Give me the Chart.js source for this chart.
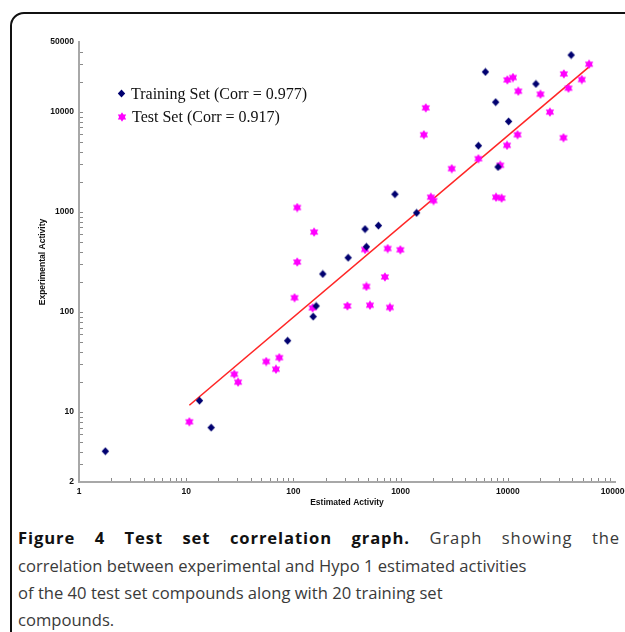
<!DOCTYPE html>
<html><head><meta charset="utf-8">
<script src="https://cdn.jsdelivr.net/npm/chart.js@4.4.0/dist/chart.umd.min.js"></script>
<style>
html,body{margin:0;padding:0;background:#fff;overflow:hidden;width:625px;height:632px;}
#frame{position:absolute;left:10px;top:12px;width:700px;height:700px;border:2px solid #111;border-radius:14px;box-sizing:border-box;}
#wrap{position:absolute;left:0;top:0;width:660px;height:512px;}
#legend{position:absolute;left:117px;top:82px;font-family:"Liberation Serif";font-size:16px;color:#111;}
.row{height:23px;display:flex;align-items:center;white-space:nowrap;}
.row canvas{margin-right:5px;}
.cap{position:absolute;left:18px;font-family:"Open Sans";font-size:16.6px;line-height:27px;color:#3a3a3a;white-space:nowrap;}
.cap b{color:#111;}
#l1{width:602px;white-space:normal;text-align:justify;text-align-last:justify;letter-spacing:0.9px;}
</style></head>
<body>
<div id="frame"></div>
<div id="wrap"><canvas id="c" width="660" height="512"></canvas></div>
<div id="legend"></div>
<div class="cap" id="l1" style="top:524px"><b>Figure 4 Test set correlation graph.</b> Graph showing the</div>
<div class="cap" style="top:552px">correlation between experimental and Hypo 1 estimated activities</div>
<div class="cap" style="top:579px">of the 40 test set compounds along with 20 training set</div>
<div class="cap" style="top:606px">compounds.</div>
<script>
const seriesNames = ['Training Set (Corr = 0.977)', 'Test Set (Corr = 0.917)'];
const xTickValues = [1, 10, 100, 1000, 10000, 100000];
const yTickValues = [2, 10, 100, 1000, 10000, 50000];

const trainX = [1.76, 13.3, 17.1, 88.3, 152.8, 163, 188, 324, 466, 480, 621, 885, 1409, 5317, 8110, 10170, 7705, 6180, 18290, 38990];
const trainY = [4.06, 13, 7.0, 51.7, 90, 115, 240, 349, 674, 449, 731, 1504, 980, 4592, 2818, 8040, 12530, 25120, 19050, 37070];

const testX = [10.7, 28.1, 30.5, 55.8, 68.8, 73.8, 108.5, 156, 108.5, 102.5, 151, 1914, 2029, 7765, 8750, 466, 757, 994, 714, 480, 319, 518, 795, 1718, 1648, 3000, 5317, 8511, 9840, 12330, 9900, 11170, 12530, 20180, 24700, 33050, 33340, 36810, 48980, 57300];
const testY = [8.0, 23.9, 19.9, 32, 26.8, 35, 1107, 629, 316, 139, 110, 1405, 1300, 1405, 1374, 422, 431, 419, 224, 180, 115, 117, 111, 10990, 5915, 2710, 3406, 2931, 4634, 5915, 20890, 22080, 16110, 15040, 9960, 5521, 23990, 17260, 21090, 29990];

const fitX = [10.7, 57300];
const fitY = [11.7, 28180];

function makeStar(){
  const c = document.createElement('canvas'); c.width = 10; c.height = 10;
  const g = c.getContext('2d'); g.fillStyle = '#ff00ff';
  const cx = 5, cy = 5, R = 4.8, r = 2.9;
  g.beginPath();
  for (let i = 0; i < 12; i++) {
    const a = -Math.PI/2 + i*Math.PI/6;
    const rad = i % 2 ? r : R;
    const px = cx + rad*Math.cos(a), py = cy + rad*Math.sin(a);
    i ? g.lineTo(px, py) : g.moveTo(px, py);
  }
  g.closePath(); g.fill();
  return c;
}
function makeDiamond(){
  const c = document.createElement('canvas'); c.width = 9; c.height = 9;
  const g = c.getContext('2d'); g.fillStyle = '#000070';
  g.beginPath(); g.moveTo(4.5,0.5); g.lineTo(8.2,4.5); g.lineTo(4.5,8.5); g.lineTo(0.8,4.5); g.closePath(); g.fill();
  return c;
}
const starImg = makeStar();
const diamondImg = makeDiamond();

const tickFont = {family: 'Liberation Sans', size: 8.5, weight: 'bold'};

const minorTicks = {
  id: 'minorTicks',
  afterDatasetsDraw(chart){
    const {ctx, scales:{x, y}} = chart;
    ctx.save(); ctx.strokeStyle = '#8a8a8a'; ctx.lineWidth = 1;
    const yb = y.bottom, xl = x.left;
    for (let d = 0; d <= 5; d++) for (let k = 1; k <= 9; k++) {
      const v = k * Math.pow(10, d);
      if (v > x.min && v < x.max) {
        const px = Math.round(x.getPixelForValue(v)) + 0.5;
        ctx.beginPath(); ctx.moveTo(px, yb - 1); ctx.lineTo(px, yb - 4); ctx.stroke();
      }
      if (v > y.min && v < y.max) {
        const py = Math.round(y.getPixelForValue(v)) + 0.5;
        ctx.beginPath(); ctx.moveTo(xl + 1, py); ctx.lineTo(xl + 4, py); ctx.stroke();
      }
    }
    ctx.restore();
  }
};

new Chart(document.getElementById('c'), {
  type: 'scatter',
  data: {datasets: [
    {label: 'fit', data: fitX.map((v,i)=>({x:v, y:fitY[i]})), showLine: true, borderColor: '#ff2626', borderWidth: 1.6, pointRadius: 0, order: 3},
    {label: seriesNames[0], data: trainX.map((v,i)=>({x:v, y:trainY[i]})), pointStyle: diamondImg, order: 1},
    {label: seriesNames[1], data: testX.map((v,i)=>({x:v, y:testY[i]})), pointStyle: starImg, order: 2}
  ]},
  options: {
    responsive: false, animation: false,
    layout: {padding: {left: 0, top: 42, right: 45, bottom: 0}},
    plugins: {legend: {display: false}, tooltip: {enabled: false}},
    scales: {
      x: {type: 'logarithmic', min: 1, max: 100000,
        afterBuildTicks: s => { s.ticks = xTickValues.map(v => ({value: v})); },
        afterFit: s => { s.height = 30; },
        grid: {display: false, drawTicks: false},
        border: {display: true, color: '#a8a8a8', width: 2},
        ticks: {callback: v => String(v), font: tickFont, color: '#111', padding: 5, maxRotation: 0, autoSkip: false},
        title: {display: true, text: 'Estimated Activity', font: tickFont, color: '#111', padding: {top: 0, bottom: 4}}
      },
      y: {type: 'logarithmic', min: 2, max: 50000,
        afterBuildTicks: s => { s.ticks = yTickValues.map(v => ({value: v})); },
        afterFit: s => { s.width = 79; },
        grid: {display: false, drawTicks: false},
        border: {display: true, color: '#a8a8a8', width: 2},
        ticks: {callback: v => String(v), font: tickFont, color: '#111', padding: 5, autoSkip: false},
        title: {display: true, text: 'Experimental Activity', font: tickFont, color: '#111', padding: {top: 38, bottom: 0}}
      }
    }
  },
  plugins: [minorTicks]
});

const leg = document.getElementById('legend');
[diamondImg, starImg].forEach((img, i) => {
  const row = document.createElement('div'); row.className = 'row';
  const c = document.createElement('canvas'); c.width = img.width; c.height = img.height;
  c.getContext('2d').drawImage(img, 0, 0);
  row.appendChild(c);
  const t = document.createElement('span'); t.textContent = seriesNames[i];
  row.appendChild(t); leg.appendChild(row);
});
</script>
</body></html>
